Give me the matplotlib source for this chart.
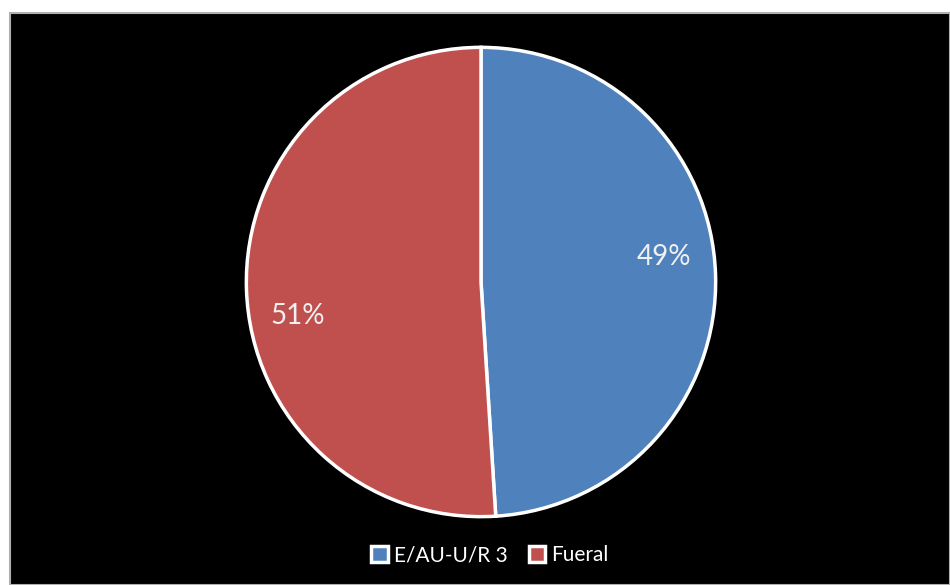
import matplotlib.pyplot as plt
from matplotlib.patches import Rectangle

# datos del gráfico
categorias = ["E/AU-U/R 3", "Fueral"]
valores = [49, 51]
colores = ["#4F81BD", "#C0504D"]

W, H = 950, 585
fig = plt.figure(figsize=(W / 100, H / 100), dpi=100)
fig.patch.set_facecolor("white")

# fondo negro con borde gris
fondo = Rectangle((10 / W, 0), 1 - 10 / W, 1 - 13 / H, transform=fig.transFigure,
                  facecolor="black", edgecolor="#b0b0b0", linewidth=1.5, zorder=-1)
fig.patches.append(fondo)

cx, cy, r = 481, H - 282, 237
ax = fig.add_axes([(cx - r) / W, (cy - r) / H, 2 * r / W, 2 * r / H])
ax.set_facecolor("none")
ax.set_zorder(2)

wedges, textos, pcts = ax.pie(
    valores, colors=colores, startangle=90, counterclock=False,
    autopct="%1.0f%%", pctdistance=0.78, radius=1,
    wedgeprops=dict(edgecolor="white", linewidth=2.5),
    textprops=dict(color="#f0f0f0", fontsize=20, family="Lato"))
# Excel coloca las etiquetas algo desplazadas
for t, dy in zip(pcts, [0.08, -0.12]):
    x, y = t.get_position()
    t.set_position((x, y + dy))
ax.set_xlim(-1.01, 1.01)
ax.set_ylim(-1.01, 1.01)
ax.set_aspect("equal")
ax.axis("off")

leg = fig.legend(wedges, categorias, loc="center", bbox_to_anchor=(490 / W, 1 - 555 / H),
                 ncol=2, frameon=False, handlelength=0.8, handleheight=0.8,
                 handletextpad=0.3, columnspacing=1.0,
                 prop=dict(family="Lato", size=15))
for t in leg.get_texts():
    t.set_color("white")

fig.savefig("out.png", dpi=100, facecolor=fig.get_facecolor())
